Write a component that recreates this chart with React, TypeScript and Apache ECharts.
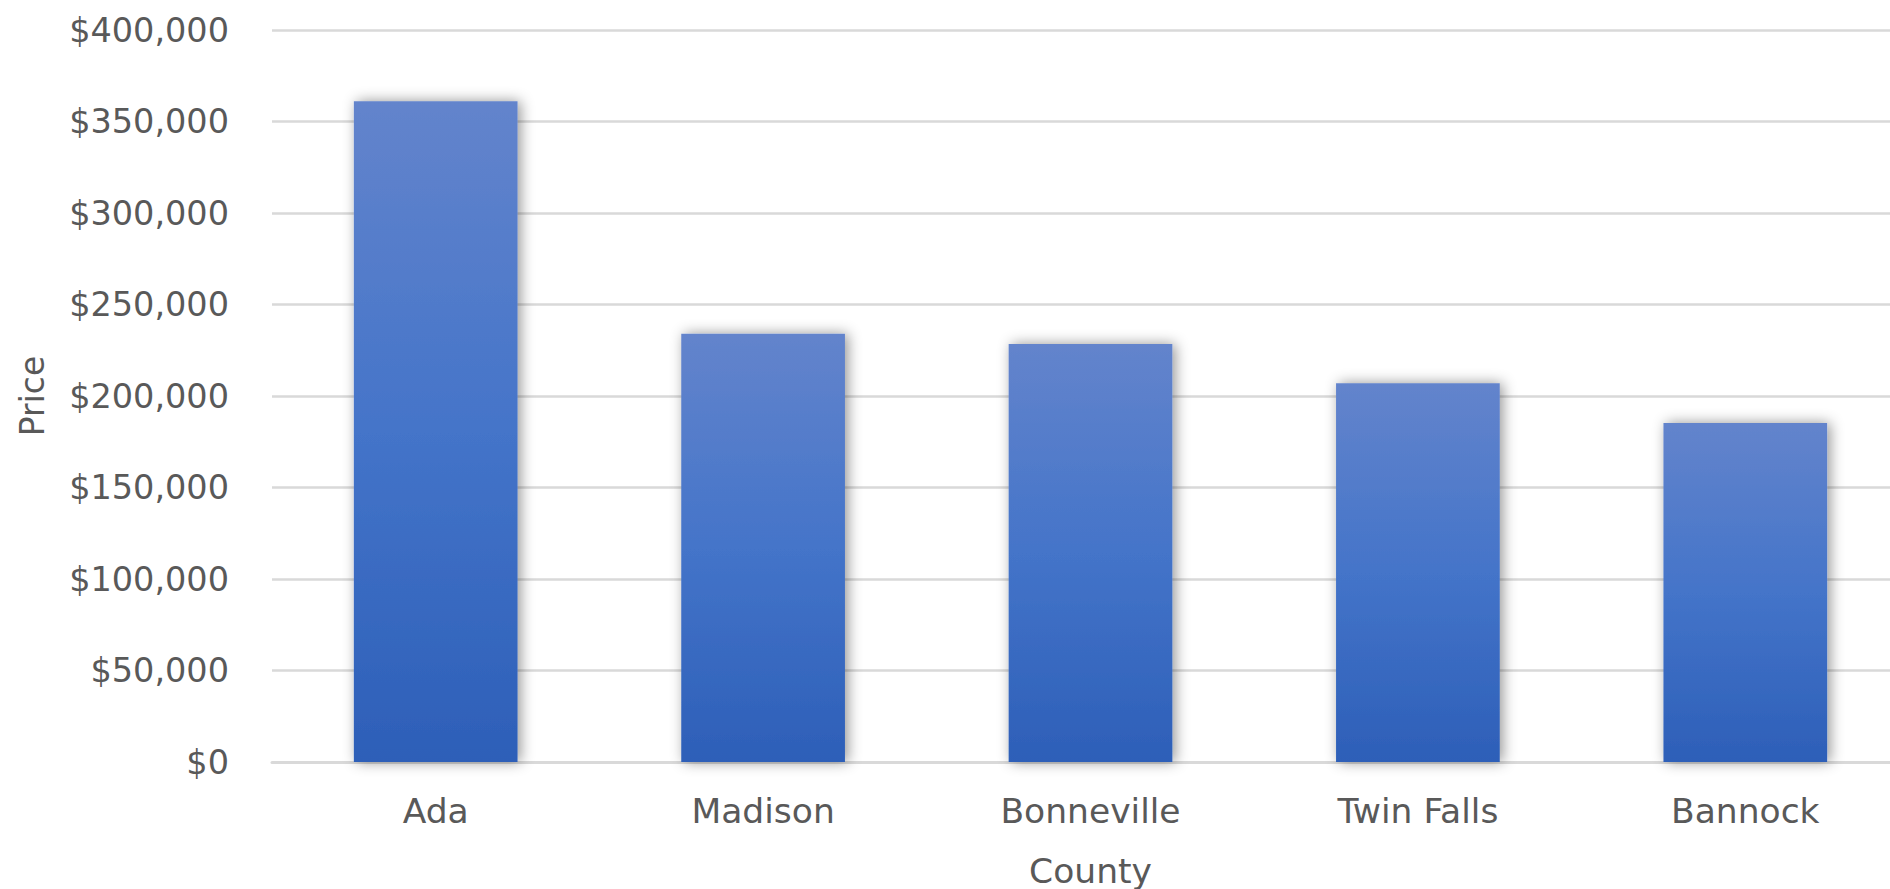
import React, { useEffect, useRef } from "react";
import * as echarts from "echarts";

const counties = ["Ada", "Madison", "Bonneville", "Twin Falls", "Bannock"];
const prices = [361000, 234000, 228400, 207000, 185200];
const yTicks = { min: 0, max: 400000, interval: 50000 };
const xTitle = "County";
const yTitle = "Price";

const fmt = (v: number) => "$" + v.toLocaleString("en-US");

export default function App() {
  const ref = useRef<HTMLDivElement>(null);
  useEffect(() => {
    if (!ref.current) return;
    const chart = echarts.init(ref.current, null, { renderer: "svg" });
    const font = "'DejaVu Sans', 'Noto Sans', sans-serif";
    const fs = 34.5;
    chart.setOption({
      animation: false,
      backgroundColor: "#ffffff",
      grid: {
        left: 272,
        right: -19,
        top: 30,
        bottom: 127,
        containLabel: false,
        outerBoundsMode: "none",
      },
      xAxis: {
        type: "category",
        data: counties,
        name: xTitle,
        nameLocation: "middle",
        nameGap: 91,
        nameTextStyle: { color: "#595959", fontSize: fs, fontFamily: font },
        axisLine: { show: true, lineStyle: { color: "#d9d9d9", width: 3 } },
        axisTick: { show: false },
        axisLabel: { color: "#595959", fontSize: fs, fontFamily: font, margin: 31 },
      },
      yAxis: {
        type: "value",
        min: yTicks.min,
        max: yTicks.max,
        interval: yTicks.interval,
        name: yTitle,
        nameLocation: "middle",
        nameRotate: 90,
        nameGap: 223,
        nameTextStyle: { color: "#595959", fontSize: 33, fontFamily: font },
        axisLine: { show: false },
        axisTick: { show: false },
        axisLabel: {
          color: "#595959",
          fontSize: 33.5,
          fontFamily: font,
          margin: 43,
          formatter: (v: number) => fmt(v),
        },
        splitLine: { lineStyle: { color: "#d9d9d9", width: 2.5 } },
      },
      series: [
        {
          type: "bar",
          data: prices,
          barWidth: "50%",
          itemStyle: {
            color: new echarts.graphic.LinearGradient(0, 0, 0, 1, [
              { offset: 0, color: "#6384cc" },
              { offset: 0.5, color: "#4474c9" },
              { offset: 1, color: "#2d5fb8" },
            ]),
            shadowBlur: 14,
            shadowColor: "rgba(0,0,0,0.42)",
            shadowOffsetX: 3,
            shadowOffsetY: 0,
          },
        },
      ],
    });
    return () => chart.dispose();
  }, []);
  return (
    <div
      ref={ref}
      style={{ position: "fixed", left: 0, top: 0, width: 1890, height: 889, background: "#fff" }}
    />
  );
}
